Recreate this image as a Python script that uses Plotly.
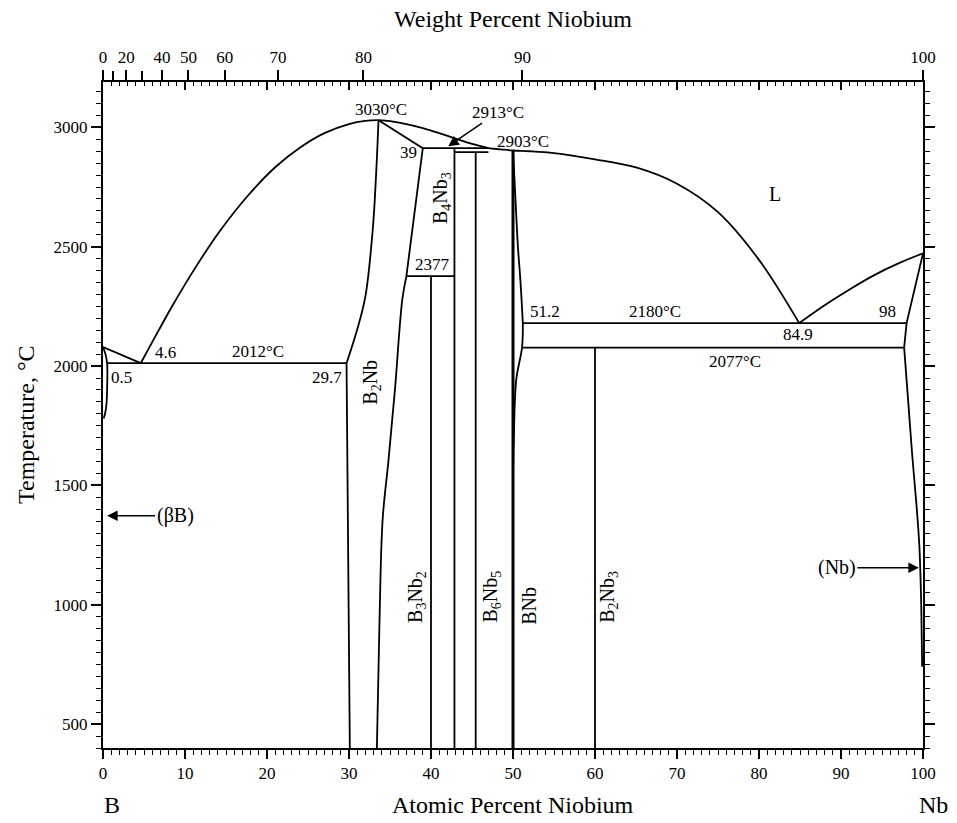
import plotly.graph_objects as go

# ---------------- data (atomic % Nb, temperature °C) ----------------
liq_left_x = [4.6, 6, 8.5, 11.5, 14.3, 17.9, 21, 24, 27, 30, 32, 33.6]
liq_left_T = [2012, 2100, 2255, 2425, 2568, 2723, 2833, 2915, 2976, 3014, 3027, 3030]

liq_mid_x = [33.6, 35, 37, 39, 41, 43, 45, 47, 48.5, 50, 52, 55, 60, 65, 70, 75, 80, 84.9]
liq_mid_T = [3030, 3026, 3014, 2997, 2976, 2953, 2931, 2913, 2908, 2903, 2900, 2892, 2866, 2832, 2764, 2645, 2445, 2180]

liq_right_x = [84.9, 88, 91, 94, 97, 100]
liq_right_T = [2180, 2255, 2320, 2380, 2430, 2472]

b_liq_x = [0, 4.6]
b_liq_T = [2080, 2012]
b_sol_x = [0, 0.3, 0.5, 0.5, 0.42, 0.25, 0.08]
b_sol_T = [2080, 2050, 2012, 1900, 1840, 1800, 1780]

nbb2_left_x = [33.6, 33.3, 32.9, 32.0, 31.0, 29.7]
nbb2_left_T = [3030, 2800, 2573, 2292, 2153, 2012]
nbb2_low_left_x = [29.7, 29.8, 30.1]
nbb2_low_left_T = [2012, 1500, 400]
nbb2_top_right_x = [33.6, 39, 37.0]
nbb2_top_right_T = [3030, 2913, 2377]
nbb2_right_x = [37.0, 36.5, 35.6, 34.8, 34.1, 33.7, 33.4]
nbb2_right_T = [2377, 2279, 1900, 1600, 1356, 900, 400]

bnb_upper_x = [50, 50.3, 50.6, 50.9, 51.2]
bnb_upper_T = [2903, 2700, 2500, 2360, 2180]
bnb_lower_x = [51.2, 51.1, 50.4, 50.1, 50]
bnb_lower_T = [2180, 2077, 1944, 1700, 1550]

nb_sol_x = [100, 98, 97.7]
nb_sol_T = [2472, 2180, 2077]
nb_solvus_x = [97.7, 98.2, 98.7, 99.2, 99.55, 99.75, 99.85, 99.9]
nb_solvus_T = [2077, 1850, 1620, 1420, 1250, 1050, 850, 740]

inv_T = [2012, 2377, 2913, 2896, 2180, 2077]
inv_x0 = [0.5, 37.0, 39, 42.86, 51.2, 51.1]
inv_x1 = [29.7, 42.86, 47, 47, 98, 97.7]

comp_x = [40, 42.86, 45.45, 60]
comp_top = [2377, 2913, 2896, 2077]
bnb_x = 50
bnb_top = 2903
T_bottom = 400

wt_label_ticks = [0, 20, 40, 50, 60, 70, 80, 90, 100]
wt_labels = ['0', '20', '40', '50', '60', '70', '80', '90', '100']
wt_plain_ticks = [10, 30]

M_NB, M_B = 92.906, 10.811


def wt_to_at(w):
    if w >= 100:
        return 100.0
    a = w / M_NB
    b = (100 - w) / M_B
    return 100 * a / (a + b)


wt_label_pos = [wt_to_at(w) for w in wt_label_ticks]
wt_plain_pos = [wt_to_at(w) for w in wt_plain_ticks]

# labels: (text, x, T)
plain_labels = [
    ('3030°C', 33.9, 3076), ('2903°C', 51.2, 2942), ('39', 37.3, 2896),
    ('2377', 40.2, 2426), ('4.6', 7.6, 2057), ('2012°C', 18.9, 2061),
    ('0.5', 2.3, 1952), ('29.7', 27.3, 1952), ('51.2', 53.9, 2229),
    ('2180°C', 67.3, 2229), ('84.9', 84.8, 2132), ('98', 95.7, 2229),
    ('2077°C', 77.1, 2019),
]
phase_labels = [
    ('B<sub>4</sub>Nb<sub>3</sub>', 41.2, 2703),
    ('B<sub>2</sub>Nb', 32.7, 1931),
    ('B<sub>3</sub>Nb<sub>2</sub>', 38.3, 1033),
    ('B<sub>6</sub>Nb<sub>5</sub>', 47.4, 1033),
    ('BNb', 51.95, 996),
    ('B<sub>2</sub>Nb<sub>3</sub>', 61.7, 1033),
]

# ---------------- figure ----------------
fig = go.Figure()


def add_line(xs, ys, width=1.8, shape='linear'):
    fig.add_trace(go.Scatter(x=xs, y=ys, mode='lines',
                             line=dict(color='black', width=width, shape=shape, smoothing=1.0),
                             hoverinfo='skip', showlegend=False))


add_line(liq_left_x, liq_left_T, shape='spline')
add_line(liq_mid_x, liq_mid_T, shape='spline')
add_line(liq_right_x, liq_right_T, shape='spline')
add_line(b_liq_x, b_liq_T)
add_line(b_sol_x, b_sol_T, shape='spline')
add_line(nbb2_left_x, nbb2_left_T, shape='spline')
add_line(nbb2_low_left_x, nbb2_low_left_T)
add_line(nbb2_top_right_x, nbb2_top_right_T)
add_line(nbb2_right_x, nbb2_right_T, shape='spline')
add_line(bnb_upper_x, bnb_upper_T, shape='spline')
add_line(bnb_lower_x, bnb_lower_T, shape='spline')
add_line(nb_sol_x, nb_sol_T)
add_line(nb_solvus_x, nb_solvus_T, shape='spline')
for t, a, b in zip(inv_T, inv_x0, inv_x1):
    add_line([a, b], [t, t])
for cx, top in zip(comp_x, comp_top):
    add_line([cx, cx], [top, T_bottom])
add_line([bnb_x, bnb_x], [bnb_top, T_bottom], width=3)

# empty traces so the extra top axes are drawn
for ax_name in ['x2', 'x3', 'x4']:
    fig.add_trace(go.Scatter(x=[], y=[], xaxis=ax_name, yaxis='y', showlegend=False))

ann = []
for txt, x, t in plain_labels:
    ann.append(dict(text=txt, x=x, y=t, xref='x', yref='y', showarrow=False,
                    font=dict(size=17)))
for txt, x, t in phase_labels:
    ann.append(dict(text=txt, x=x, y=t, xref='x', yref='y', showarrow=False,
                    textangle=-90, font=dict(size=20)))
ann.append(dict(text='L', x=82.0, y=2720, xref='x', yref='y', showarrow=False,
                font=dict(size=20)))
ann.append(dict(text='2913°C', x=42.1, y=2921, xref='x', yref='y', showarrow=True,
                ax=50, ay=-34, arrowhead=2, arrowsize=1.4, arrowwidth=1.5, arrowcolor='black',
                font=dict(size=17)))
ann.append(dict(text='(βB)', x=0.5, y=1373, xref='x', yref='y', showarrow=True,
                ax=68, ay=0, arrowhead=2, arrowsize=1.4, arrowwidth=1.5, arrowcolor='black',
                font=dict(size=20)))
ann.append(dict(text='(Nb)', x=99.5, y=1155, xref='x', yref='y', showarrow=True,
                ax=-82, ay=0, arrowhead=2, arrowsize=1.4, arrowwidth=1.5, arrowcolor='black',
                font=dict(size=20)))
# axis titles / end labels
ann.append(dict(text='Weight Percent Niobium', x=0.5, y=1, xref='paper', yref='paper',
                xanchor='center', yanchor='middle', yshift=63, showarrow=False,
                font=dict(size=24)))
ann.append(dict(text='Atomic Percent Niobium', x=0.5, y=0, xref='paper', yref='paper',
                xanchor='center', yanchor='middle', yshift=-57, showarrow=False,
                font=dict(size=24)))
ann.append(dict(text='B', x=0, y=0, xref='paper', yref='paper', xshift=9,
                xanchor='center', yanchor='middle', yshift=-57, showarrow=False,
                font=dict(size=24)))
ann.append(dict(text='Nb', x=1, y=0, xref='paper', yref='paper', xshift=10,
                xanchor='center', yanchor='middle', yshift=-57, showarrow=False,
                font=dict(size=24)))
ann.append(dict(text='Temperature, °C', x=0, y=0.485, xref='paper', yref='paper',
                xanchor='center', yanchor='middle', xshift=-77, textangle=-90,
                showarrow=False, font=dict(size=24)))

axis_common = dict(showgrid=False, zeroline=False, linecolor='black', tickcolor='black')

fig.update_layout(
    width=957, height=823,
    margin=dict(l=103, r=34, t=82, b=75),
    plot_bgcolor='white', paper_bgcolor='white', showlegend=False,
    font=dict(family='Liberation Serif', color='black', size=17),
    annotations=ann,
    xaxis=dict(range=[0, 100], tickmode='linear', tick0=0, dtick=10, ticks='outside',
               ticklen=9, tickwidth=1.5, showline=True, linewidth=2,
               minor=dict(dtick=1, ticklen=5, ticks='outside', tickwidth=1.2, tickcolor='black'),
               tickfont=dict(size=17), **axis_common),
    xaxis2=dict(overlaying='x', side='top', range=[0, 100], tickmode='array',
                tickvals=wt_label_pos, ticktext=wt_labels, ticks='outside', ticklen=10,
                tickwidth=1.5, showline=True, linewidth=2, tickfont=dict(size=17),
                **axis_common),
    xaxis4=dict(overlaying='x', side='top', range=[0, 100], tickmode='array',
                tickvals=wt_plain_pos, ticks='outside', ticklen=10, tickwidth=1.5,
                showticklabels=False, **axis_common),
    xaxis3=dict(overlaying='x', side='top', range=[0, 100], tickmode='linear', tick0=0,
                dtick=10, ticks='inside', ticklen=8, tickwidth=1.5, showticklabels=False,
                minor=dict(dtick=1, ticklen=4, ticks='inside', tickwidth=1.2, tickcolor='black'),
                **axis_common),
    yaxis=dict(range=[400, 3190], tickmode='linear', tick0=500, dtick=500, ticks='outside',
               ticklen=10, tickwidth=1.5, showline=True, linewidth=2, mirror='ticks',
               minor=dict(dtick=50, ticklen=5, ticks='outside', tickwidth=1.2, tickcolor='black'),
               tickfont=dict(size=17), **axis_common),
)

# remove the default 8px page margin so the 957x823 figure fills the window exactly
fig.write_html('out.html', config={'displayModeBar': False},
               post_script="document.body.style.margin='0';")
